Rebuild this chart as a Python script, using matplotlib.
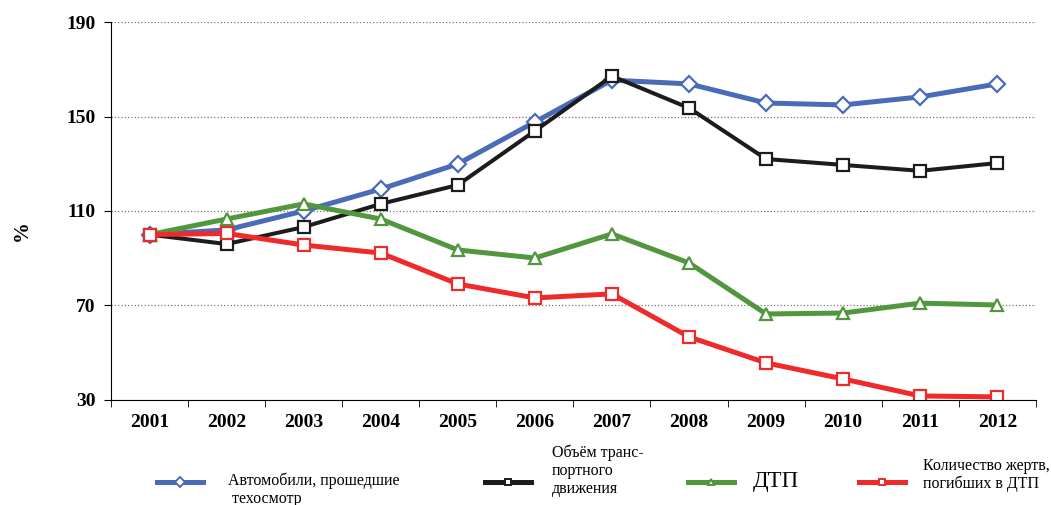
import matplotlib
matplotlib.use('Agg')
import matplotlib.pyplot as plt
from matplotlib.lines import Line2D

plt.rcParams['font.family'] = ['Liberation Serif', 'DejaVu Serif']

years = ['2001', '2002', '2003', '2004', '2005', '2006', '2007', '2008', '2009', '2010', '2011', '2012']
avto = [100, 102, 110, 119.3, 129.9, 147.7, 165.4, 163.8, 155.7, 154.9, 158.3, 163.8]
obem = [100, 96, 103.2, 113, 121, 143.9, 167.1, 153.6, 132, 129.5, 127, 130.3]
dtp = [100, 106.6, 113, 106.6, 93.5, 90.1, 100.3, 88, 66.4, 66.8, 71, 70.2]
zhertvy = [100, 100.5, 95.6, 92.2, 79.1, 73.2, 74.9, 56.7, 45.7, 38.9, 31.7, 31.3]

labels = ['Автомобили, прошедшие\n техосмотр', 'Объём транс-\nпортного\nдвижения', 'ДТП',
          'Количество жертв,\nпогибших в ДТП']
colors = ['#4a6bb8', '#1c1c1c', '#52973e', '#ee2a2a']
markers = ['D', 's', '^', 's']
series = [avto, obem, dtp, zhertvy]

fig = plt.figure(figsize=(10.51, 5.05), dpi=100)
ax = fig.add_axes([0.1056, 0.208, 0.88, 0.7484])

x = list(range(len(years)))
lws = [3.6, 2.9, 3.6, 3.6]
msz = [8, 8.5, 9, 8.5]
for s, c, m, lw, ms in zip(series, colors, markers, lws, msz):
    ax.plot(x, s, color=c, linewidth=lw, marker=m, markersize=ms,
            markerfacecolor='white', markeredgecolor=c, markeredgewidth=1.6)

ax.set_xlim(-0.5, len(years) - 0.5)
ax.set_ylim(30, 190)
ax.set_yticks([30, 70, 110, 150, 190])
ax.set_xticks(x)
ax.set_xticklabels(years)
ax.set_xticks([i + 0.5 for i in range(-1, len(years))], minor=True)
ax.tick_params(axis='x', which='major', length=0, pad=10)
ax.tick_params(axis='x', which='minor', length=5, direction='out')
ax.tick_params(axis='y', length=5, direction='out', pad=6)
for lab in ax.get_xticklabels() + ax.get_yticklabels():
    lab.set_fontsize(14)
    lab.set_fontweight('bold')

ax.yaxis.grid(True, linestyle=':', color='#777777', linewidth=0.9)
ax.set_axisbelow(True)
ax.spines['top'].set_visible(False)
ax.spines['right'].set_visible(False)
ax.set_ylabel('%', fontsize=15, fontweight='bold')
ax.yaxis.set_label_coords(-0.086, 0.447)

# legend: handles as separate legends, texts placed next to them
handle_x = [0.1494, 0.4615, 0.6546, 0.8173]
handle_y = 1 - 483 / 505
text_pos = [(0.2169, 1 - 490 / 505), (0.5252, 1 - 471 / 505), (0.7165, 1 - 482 / 505), (0.8782, 1 - 475 / 505)]
sizes = [11.5, 11.5, 16.5, 11.5]
for lab, c, m, hx, tp, fs in zip(labels, colors, markers, handle_x, text_pos, sizes):
    handle = Line2D([], [], color=c, linewidth=3.6, marker=m, markersize=5,
                    markerfacecolor='white', markeredgecolor=c, markeredgewidth=1.4)
    fig.legend([handle], [''], loc='center left', bbox_to_anchor=(hx, handle_y),
               frameon=False, fontsize=10, borderpad=0, borderaxespad=0,
               handlelength=3.3, handletextpad=0)
    fig.text(tp[0], tp[1], lab, fontsize=fs, ha='left', va='center', linespacing=1.15)

plt.savefig('out.png', dpi=100)
